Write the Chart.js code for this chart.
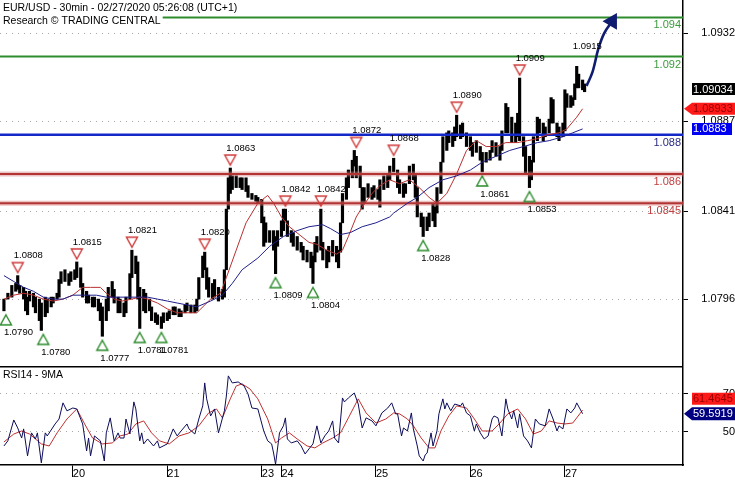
<!DOCTYPE html>
<html><head><meta charset="utf-8">
<script src="https://cdn.jsdelivr.net/npm/chart.js@4.4.1/dist/chart.umd.min.js"></script>
<style>
html,body{margin:0;padding:0;background:#fff;}
#wrap{position:relative;width:735px;height:480px;overflow:hidden;background:#fff;}
#c1{position:absolute;left:0;top:0;}
#c2{position:absolute;left:0;top:366px;}
</style></head><body>
<div id="wrap">
<canvas id="c1" width="735" height="366"></canvas>
<canvas id="c2" width="735" height="114"></canvas>
</div>
<script>
// ---------- DATA (x = 30-min bar index) ----------
const titleLines = ['EUR/USD - 30min - 02/27/2020 05:26:08 (UTC+1)', 'Research \u00A9 TRADING CENTRAL'];
const rsiTitle = 'RSI14 - 9MA';
const dayTicks = [37, 85, 133, 143, 191, 239, 287];
const dayLabels = ['20', '21', '23', '24', '25', '26', '27'];
const priceTicks = [1.0796, 1.0841, 1.0887, 1.0932];
const rsiTicks = [50, 70];
const levels = [1.094, 1.092, 1.088, 1.086, 1.0845];
const levelLabels = ['1.094', '1.092', '1.088', '1.086', '1.0845'];
// [bar, low, high]
const candles = [
[2,1.0790,1.0796],[4,1.0796,1.0799],[6,1.0797,1.0803],[8,1.0800,1.0804],[9,1.0801,1.0808],[10,1.0799,1.0803],[12,1.0796,1.0802],[13,1.0790,1.0800],[14,1.0788,1.0797],[15,1.0795,1.0800],[17,1.0792,1.0799],[18,1.0789,1.0797],[20,1.0785,1.0796],[21,1.0780,1.0794],[23,1.0787,1.0797],[24,1.0789,1.0796],[26,1.0792,1.0797],[27,1.0794,1.0797],[29,1.0796,1.0799],[30,1.0797,1.0806],[31,1.0804,1.0810],[33,1.0805,1.0811],[35,1.0803,1.0809],[36,1.0805,1.0810],[38,1.0806,1.0811],[39,1.0807,1.0815],[41,1.0802,1.0812],[42,1.0797,1.0804],[44,1.0794,1.0800],[45,1.0794,1.0798],[47,1.0792,1.0797],[48,1.0792,1.0797],[50,1.0790,1.0796],[51,1.0785,1.0794],[52,1.0777,1.0792],[54,1.0785,1.0796],[55,1.0790,1.0802],[57,1.0797,1.0805],[58,1.0794,1.0801],[60,1.0789,1.0797],[61,1.0789,1.0796],[63,1.0787,1.0794],[64,1.0789,1.0797],[66,1.0796,1.0809],[67,1.0807,1.0821],[69,1.0809,1.0818],[70,1.0796,1.0815],[71,1.0781,1.0802],[73,1.0790,1.0801],[74,1.0789,1.0799],[76,1.0790,1.0796],[77,1.0785,1.0792],[79,1.0784,1.0789],[80,1.0783,1.0788],[82,1.0781,1.0787],[83,1.0784,1.0789],[85,1.0785,1.0789],[86,1.0786,1.0790],[88,1.0788,1.0792],[89,1.0788,1.0792],[91,1.0787,1.0791],[92,1.0787,1.0790],[94,1.0789,1.0793],[95,1.0790,1.0794],[97,1.0789,1.0793],[99,1.0789,1.0793],[100,1.0790,1.0796],[101,1.0796,1.0807],[103,1.0807,1.0818],[104,1.0811,1.0820],[105,1.0801,1.0812],[106,1.0797,1.0807],[108,1.0796,1.0804],[109,1.0797,1.0806],[111,1.0795,1.0802],[113,1.0796,1.0801],[114,1.0797,1.0811],[115,1.0811,1.0842],[116,1.0842,1.0858],[117,1.0850,1.0863],[118,1.0852,1.0859],[120,1.0853,1.0859],[122,1.0853,1.0858],[123,1.0852,1.0858],[125,1.0851,1.0858],[126,1.0848,1.0854],[128,1.0847,1.0850],[130,1.0846,1.0849],[131,1.0845,1.0848],[133,1.0835,1.0847],[134,1.0823,1.0838],[135,1.0825,1.0835],[137,1.0825,1.0831],[139,1.0821,1.0831],[140,1.0809,1.0828],[141,1.0823,1.0831],[143,1.0828,1.0836],[144,1.0831,1.0842],[145,1.0836,1.0842],[146,1.0828,1.0836],[148,1.0825,1.0831],[149,1.0823,1.0830],[151,1.0821,1.0828],[153,1.0820,1.0825],[154,1.0816,1.0823],[156,1.0815,1.0821],[158,1.0812,1.0820],[159,1.0804,1.0818],[160,1.0815,1.0825],[161,1.0820,1.0828],[163,1.0821,1.0842],[164,1.0816,1.0825],[166,1.0812,1.0821],[167,1.0815,1.0823],[169,1.0818,1.0826],[171,1.0815,1.0823],[172,1.0812,1.0821],[173,1.0820,1.0835],[174,1.0835,1.0850],[176,1.0847,1.0858],[177,1.0853,1.0862],[179,1.0858,1.0867],[180,1.0864,1.0872],[181,1.0858,1.0869],[183,1.0853,1.0864],[184,1.0842,1.0853],[185,1.0845,1.0853],[187,1.0848,1.0855],[189,1.0847,1.0853],[190,1.0848,1.0854],[192,1.0847,1.0852],[193,1.0843,1.0857],[195,1.0852,1.0859],[197,1.0853,1.0860],[198,1.0857,1.0864],[200,1.0861,1.0868],[202,1.0853,1.0862],[203,1.0850,1.0857],[205,1.0848,1.0855],[206,1.0850,1.0855],[208,1.0855,1.0864],[210,1.0857,1.0865],[211,1.0848,1.0860],[212,1.0838,1.0853],[214,1.0833,1.0840],[215,1.0828,1.0838],[217,1.0831,1.0838],[218,1.0833,1.0840],[220,1.0836,1.0845],[221,1.0833,1.0843],[222,1.0840,1.0853],[224,1.0850,1.0866],[225,1.0866,1.0879],[227,1.0872,1.0881],[228,1.0876,1.0882],[230,1.0874,1.0881],[231,1.0877,1.0884],[232,1.0879,1.0890],[234,1.0878,1.0885],[235,1.0879,1.0886],[237,1.0874,1.0881],[239,1.0872,1.0879],[240,1.0869,1.0876],[242,1.0871,1.0877],[244,1.0867,1.0874],[245,1.0861,1.0871],[247,1.0866,1.0871],[249,1.0867,1.0872],[250,1.0871,1.0877],[252,1.0869,1.0876],[254,1.0867,1.0874],[255,1.0872,1.0882],[257,1.0881,1.0896],[258,1.0881,1.0894],[260,1.0876,1.0889],[262,1.0876,1.0886],[263,1.0879,1.0891],[264,1.0877,1.0909],[266,1.0869,1.0879],[267,1.0860,1.0874],[269,1.0853,1.0869],[270,1.0857,1.0867],[271,1.0866,1.0879],[273,1.0877,1.0889],[274,1.0881,1.0888],[276,1.0877,1.0886],[277,1.0879,1.0884],[279,1.0881,1.0888],[280,1.0886,1.0899],[281,1.0886,1.0898],[283,1.0879,1.0886],[284,1.0877,1.0884],[286,1.0879,1.0886],[287,1.0882,1.0903],[288,1.0894,1.0901],[290,1.0894,1.0900],[291,1.0895,1.0899],[292,1.0898,1.0906],[293,1.0904,1.0915],[294,1.0904,1.0911],[296,1.0903,1.0908],[297,1.0902,1.0906]
];
const maSlow = [[2,1.0808],[7,1.0805],[12,1.0802],[17,1.0800],[22,1.0797],[27,1.0796],[32,1.0796],[37,1.0798],[42,1.0798],[49,1.0798],[54,1.0797],[59,1.0797],[64,1.0797],[70,1.0797],[75,1.0797],[80,1.0796],[85,1.0795],[90,1.0794],[95,1.0793],[100,1.0792],[107,1.0795],[113,1.0798],[118,1.0804],[123,1.0811],[131,1.0817],[137,1.0823],[144,1.0828],[151,1.0831],[157,1.0833],[164,1.0834],[168,1.0832],[173,1.0829],[178,1.0830],[184,1.0833],[191,1.0835],[198,1.0838],[200,1.0840],[207,1.0845],[212,1.0848],[218,1.0853],[225,1.0857],[232,1.0859],[239,1.0862],[245,1.0866],[252,1.0869],[259,1.0872],[266,1.0874],[273,1.0876],[279,1.0877],[286,1.0879],[291,1.0881],[296,1.0883]];
const maFast = [[2,1.0796],[7,1.0798],[12,1.0799],[17,1.0798],[22,1.0796],[27,1.0795],[32,1.0796],[37,1.0798],[42,1.0802],[46,1.0802],[51,1.0802],[54,1.0799],[58,1.0796],[62,1.0795],[67,1.0796],[71,1.0797],[75,1.0796],[80,1.0794],[85,1.0791],[90,1.0789],[95,1.0789],[100,1.0789],[107,1.0796],[112,1.0799],[115,1.0807],[120,1.0821],[125,1.0835],[131,1.0845],[136,1.0849],[139,1.0845],[143,1.0838],[147,1.0833],[152,1.0829],[157,1.0825],[161,1.0824],[166,1.0821],[171,1.0819],[174,1.0821],[177,1.0828],[181,1.0838],[184,1.0843],[189,1.0850],[193,1.0854],[198,1.0857],[203,1.0855],[208,1.0857],[213,1.0853],[218,1.0848],[222,1.0845],[227,1.0850],[232,1.0860],[237,1.0872],[242,1.0877],[247,1.0874],[252,1.0874],[257,1.0876],[263,1.0876],[268,1.0877],[273,1.0878],[278,1.0880],[284,1.0881],[288,1.0883],[293,1.0889],[296,1.08933]];
const forecastArrow = [[298,1.0905],[301,1.0912],[304,1.0924],[307,1.0932],[311,1.0938]];
const peaks = [[9,1.0808],[39,1.0815],[67,1.0821],[104,1.0820],[117,1.0863],[145,1.0842],[163,1.0842],[181,1.0872],[200,1.0868],[232,1.0890],[264,1.0909],[293,1.0915]];
const peakMarked = [true,true,true,true,true,true,true,true,true,true,true,false];
const troughs = [[3,1.0790],[22,1.0780],[52,1.0777],[71,1.0781],[82,1.0781],[140,1.0809],[159,1.0804],[215,1.0828],[245,1.0861],[269,1.0853]];
const lastClose = 1.09034, lastMaFast = 1.08933, lastMaSlow = 1.0883;
const rsiLine = [[2,42.6],[4,45.3],[7,56.3],[9,52.1],[11,46.8],[12,51.6],[14,37.4],[16,49.5],[18,46.3],[19,49.5],[21,33.7],[23,49.5],[24,47.9],[28,54.2],[30,56.8],[32,65.3],[34,61.1],[37,62.6],[39,62.1],[42,54.2],[44,40.0],[45,46.8],[46,37.4],[48,47.9],[51,45.3],[53,34.7],[54,49.5],[56,57.4],[58,45.3],[60,49.5],[61,46.8],[63,46.8],[64,56.8],[66,48.9],[68,65.8],[69,62.1],[71,45.3],[72,49.5],[73,43.7],[75,46.3],[78,42.6],[80,45.3],[81,41.6],[85,43.7],[88,51.6],[90,47.9],[92,50.5],[95,54.2],[96,51.6],[99,48.9],[101,56.8],[103,63.7],[104,75.8],[105,67.4],[107,58.4],[109,62.1],[111,49.5],[114,61.1],[115,68.9],[116,79.5],[118,75.8],[121,76.3],[124,74.2],[126,70.0],[128,62.6],[131,62.1],[134,50.5],[136,45.3],[138,43.7],[139,38.9],[140,33.0],[142,49.5],[144,53.2],[145,57.4],[146,46.3],[148,44.2],[151,45.3],[153,42.6],[155,38.4],[157,41.1],[159,43.7],[161,53.2],[163,44.2],[165,47.9],[167,50.5],[169,55.8],[170,46.8],[172,44.2],[174,67.9],[175,65.8],[177,67.9],[180,70.5],[182,64.7],[184,52.1],[186,57.4],[189,55.8],[191,53.2],[194,60.0],[197,62.6],[199,65.3],[201,59.5],[202,59.5],[204,47.9],[205,52.1],[207,50.5],[209,60.0],[210,51.6],[212,42.6],[213,37.4],[215,34.7],[216,37.9],[217,38.9],[219,49.5],[220,42.6],[222,50.5],[223,59.5],[225,67.4],[226,62.1],[227,65.3],[229,61.1],[231,64.7],[234,63.7],[235,65.3],[237,60.0],[239,58.4],[241,50.5],[242,54.2],[244,49.5],[246,46.3],[248,47.9],[250,56.8],[251,58.4],[253,57.4],[255,47.9],[257,67.4],[258,62.1],[260,56.8],[261,61.1],[263,52.1],[264,59.5],[266,47.9],[268,45.3],[270,41.6],[271,49.5],[272,56.8],[274,54.2],[277,53.2],[279,62.1],[281,56.8],[283,50.5],[284,53.2],[286,51.6],[288,62.1],[290,60.0],[292,62.6],[293,65.3],[296,59.6]];
const rsiMA = [[2,44.7],[7,48.9],[11,50.5],[15,48.9],[21,43.7],[25,42.6],[29,49.5],[34,56.8],[39,62.1],[43,54.2],[47,46.8],[52,43.7],[57,44.2],[61,47.9],[65,48.9],[69,54.2],[73,55.8],[77,49.5],[81,45.3],[86,43.7],[91,47.9],[96,49.5],[101,53.2],[106,60.0],[110,62.1],[113,57.4],[117,67.4],[120,74.2],[123,75.3],[127,72.6],[131,67.4],[136,56.8],[140,44.2],[143,46.8],[147,49.5],[151,46.3],[156,42.6],[160,41.6],[164,44.2],[169,46.8],[173,49.5],[177,57.4],[182,67.4],[186,60.0],[191,54.7],[196,56.8],[200,60.0],[203,59.5],[207,56.8],[210,53.2],[214,46.8],[218,41.6],[221,41.6],[224,50.5],[228,58.4],[232,63.7],[237,62.6],[241,56.8],[245,50.5],[250,50.5],[254,54.7],[258,59.5],[263,62.1],[267,56.8],[271,48.9],[275,50.5],[279,55.8],[283,54.7],[287,54.2],[291,54.7],[296,61.5]];
const lastRsi = 59.5919, lastRsiMA = 61.4645;

// ---------- AXIS RANGES ----------
const xMin = 0, xMax = 347;
const priceMin = 1.07618, priceMax = 1.09489;
const rsiMin = 32.6, rsiMax = 84.7;

// ---------- STYLES ----------
const FAM = '"Liberation Sans", Arial, sans-serif';
const levelColors = ['#2e8b2e', '#2e8b2e', '#1428c8', '#b23434', '#b23434'];
const levelHalo = [null, null, null, 'rgba(215,120,120,0.45)', 'rgba(215,120,120,0.45)'];
const levelWidths = [2, 2, 2.5, 2, 2];
const levelTextColors = ['#3c9a3c', '#3c9a3c', '#2a2a80', '#c04040', '#c04040'];

const xy = a => a.map(p => ({x: p[0], y: p[1]}));

function triImg(color, down, off) {
  const c = document.createElement('canvas');
  c.width = 16; c.height = 48;
  const g = c.getContext('2d');
  const cy = 24 + (down ? -off : off);
  g.strokeStyle = color; g.lineWidth = 1.4; g.lineJoin = 'miter';
  g.beginPath();
  if (down) { g.moveTo(2.5, cy - 5); g.lineTo(13.5, cy - 5); g.lineTo(8, cy + 5); }
  else { g.moveTo(8, cy - 5); g.lineTo(13.5, cy + 5); g.lineTo(2.5, cy + 5); }
  g.closePath(); g.stroke();
  return c;
}
const peakImg = triImg('#d03a3a', true, 8);
const troughImg = triImg('#2a8a2a', false, 9);

function drawTag(ctx, yc, text, fill, color, arrow, h, right) {
  const l = 692, tip = 684;
  ctx.beginPath();
  if (arrow) { ctx.moveTo(tip, yc); ctx.lineTo(l, yc - h / 2); } else ctx.moveTo(l, yc - h / 2);
  ctx.lineTo(right, yc - h / 2); ctx.lineTo(right, yc + h / 2); ctx.lineTo(l, yc + h / 2);
  ctx.closePath();
  ctx.fillStyle = fill; ctx.fill();
  ctx.fillStyle = color; ctx.font = '11px ' + FAM;
  ctx.textAlign = 'left'; ctx.textBaseline = 'middle';
  ctx.fillText(text, l + 1, yc + 0.5);
}

// ---------- MAIN PRICE CHART ----------
const levelDatasets = [];
levels.forEach((v, i) => {
  const pts = [{x: xMin, y: v}, {x: xMax, y: v}];
  if (levelHalo[i]) levelDatasets.push({type: 'line', data: pts, borderColor: levelHalo[i], borderWidth: 5, pointRadius: 0, order: 5});
  levelDatasets.push({type: 'line', data: pts, borderColor: levelColors[i], borderWidth: levelWidths[i], pointRadius: 0, order: 4});
});

const mainDecor = {
  id: 'mainDecor',
  afterDatasetsDraw(chart) {
    const {ctx, chartArea: ca, scales: {y}} = chart;
    ctx.save();
    ctx.font = '11px ' + FAM; ctx.textAlign = 'right'; ctx.textBaseline = 'middle';
    levels.forEach((v, i) => {
      ctx.fillStyle = levelTextColors[i];
      ctx.fillText(levelLabels[i], ca.right - 2, y.getPixelForValue(v) + 8);
    });
    ctx.font = '9.5px ' + FAM; ctx.fillStyle = '#000'; ctx.textAlign = 'left';
    chart.data.datasets.forEach((ds, di) => {
      if (!ds.markerKind) return;
      const meta = chart.getDatasetMeta(di);
      const src = ds.markerKind === 'peak' ? peaks : troughs;
      meta.data.forEach((el, j) => {
        const txt = src[j][1].toFixed(4);
        if (ds.markerKind === 'peak') ctx.fillText(txt, el.x - 4, el.y - 20);
        else ctx.fillText(txt, el.x - 2, el.y + 22);
      });
    });
    ctx.restore();
  },
  afterDraw(chart) {
    const {ctx, scales: {y}} = chart;
    ctx.save();
    ctx.font = '10.5px ' + FAM; ctx.textAlign = 'left'; ctx.textBaseline = 'middle';
    const w2 = ctx.measureText(titleLines[1]).width;
    ctx.fillStyle = '#fff'; ctx.fillRect(0, 14, w2 + 5, 13);
    ctx.fillStyle = '#000';
    ctx.fillText(titleLines[0], 3, 8);
    ctx.fillText(titleLines[1], 3, 21);
    drawTag(ctx, y.getPixelForValue(lastClose), lastClose.toFixed(5), '#000', '#fff', false, 12, 735);
    drawTag(ctx, y.getPixelForValue(lastMaFast), lastMaFast.toFixed(5), '#ff1a1a', '#9a0000', true, 12, 735);
    drawTag(ctx, y.getPixelForValue(lastMaSlow), lastMaSlow.toFixed(4), '#0000f0', '#fff', false, 12, 732);
    ctx.restore();
  }
};

new Chart(document.getElementById('c1'), {
  type: 'bar',
  data: {
    datasets: [
      {type: 'bar', data: candles.map(c => ({x: c[0], y: [c[1], c[2]]})), backgroundColor: '#000', borderWidth: 0, barThickness: 2.5, order: 6},
      ...levelDatasets,
      {type: 'line', data: xy(maSlow), borderColor: '#20208c', borderWidth: 1, pointRadius: 0, order: 3},
      {type: 'line', data: xy(maFast), borderColor: '#b83030', borderWidth: 1, pointRadius: 0, order: 3},
      {type: 'line', data: xy(forecastArrow), borderColor: '#101c70', borderWidth: 2.6, tension: 0.35,
        pointStyle: 'triangle', pointRotation: 30, pointBackgroundColor: '#101c70', pointBorderColor: '#101c70',
        pointRadius: c => c.dataIndex === forecastArrow.length - 1 ? 7 : 0, order: 2},
      {type: 'line', markerKind: 'peak', data: xy(peaks), showLine: false, pointStyle: peakImg,
        pointRadius: c => peakMarked[c.dataIndex] ? 5 : 0, order: 1},
      {type: 'line', markerKind: 'trough', data: xy(troughs), showLine: false, pointStyle: troughImg, pointRadius: 5, order: 1}
    ]
  },
  options: {
    responsive: false, animation: false, devicePixelRatio: 1,
    layout: {padding: 0, autoPadding: false},
    plugins: {legend: {display: false}, tooltip: {enabled: false}},
    scales: {
      x: {type: 'linear', min: xMin, max: xMax, offset: false, display: false, grid: {offset: false}},
      y: {type: 'linear', position: 'right', min: priceMin, max: priceMax,
        afterBuildTicks: s => { s.ticks = priceTicks.map(v => ({value: v})); },
        afterFit: s => { s.width = 52; s.paddingTop = 0; s.paddingBottom = 0; },
        ticks: {crossAlign: 'far', padding: 10, color: '#000', font: {size: 11, family: FAM}, callback: v => v.toFixed(4)},
        grid: {color: '#a8a8a8', lineWidth: 1, tickColor: '#000', tickLength: 5, tickWidth: 1},
        border: {display: true, color: '#000', width: 1.5, dash: [1, 5]}
      }
    }
  },
  plugins: [mainDecor]
});

// ---------- RSI CHART ----------
const rsiDecor = {
  id: 'rsiDecor',
  afterDraw(chart) {
    const {ctx, chartArea: ca, scales: {y}} = chart;
    ctx.save();
    ctx.strokeStyle = '#000'; ctx.lineWidth = 1.5;
    ctx.beginPath(); ctx.moveTo(0, ca.top + 0.75); ctx.lineTo(ca.right, ca.top + 0.75); ctx.stroke();
    ctx.font = '10.5px ' + FAM; ctx.fillStyle = '#000'; ctx.textAlign = 'left'; ctx.textBaseline = 'middle';
    ctx.fillText(rsiTitle, 3, ca.top + 9);
    const yr = y.getPixelForValue(lastRsi);
    let ym = y.getPixelForValue(lastRsiMA);
    if (Math.abs(ym - yr) < 15) ym = yr - 15;
    drawTag(ctx, ym, lastRsiMA.toFixed(4), '#ff1a1a', '#9a0000', false, 12, 735);
    drawTag(ctx, yr, lastRsi.toFixed(4), '#000080', '#fff', true, 13, 735);
    ctx.restore();
  }
};

new Chart(document.getElementById('c2'), {
  type: 'line',
  data: {
    datasets: [
      {data: xy(rsiMA), borderColor: '#c03030', borderWidth: 1, pointRadius: 0, order: 2},
      {data: xy(rsiLine), borderColor: '#0c0c5a', borderWidth: 1, pointRadius: 0, order: 1}
    ]
  },
  options: {
    responsive: false, animation: false, devicePixelRatio: 1,
    layout: {padding: 0, autoPadding: false},
    plugins: {legend: {display: false}, tooltip: {enabled: false}},
    scales: {
      x: {type: 'linear', min: xMin, max: xMax, offset: false,
        afterBuildTicks: s => { s.ticks = dayTicks.map(v => ({value: v})); },
        afterFit: s => { s.height = 15; s.paddingLeft = 0; s.paddingRight = 0; },
        ticks: {autoSkip: false, maxRotation: 0, align: 'start', padding: -10, color: '#000', font: {size: 11, family: FAM},
          callback: v => dayLabels[dayTicks.indexOf(v)]},
        grid: {drawOnChartArea: false, drawTicks: true, tickLength: 12, tickColor: '#000', tickWidth: 1},
        border: {display: true, color: '#000', width: 1.5}
      },
      y: {type: 'linear', position: 'right', min: rsiMin, max: rsiMax,
        afterBuildTicks: s => { s.ticks = rsiTicks.map(v => ({value: v})); },
        afterFit: s => { s.width = 52; s.paddingTop = 0; s.paddingBottom = 0; },
        ticks: {crossAlign: 'far', padding: 31, color: '#000', font: {size: 11, family: FAM}},
        grid: {color: '#a8a8a8', lineWidth: 1, tickColor: '#000', tickLength: 5, tickWidth: 1},
        border: {display: true, color: '#000', width: 1.5, dash: [1, 5]}
      }
    }
  },
  plugins: [rsiDecor]
});
</script>
</body></html>
